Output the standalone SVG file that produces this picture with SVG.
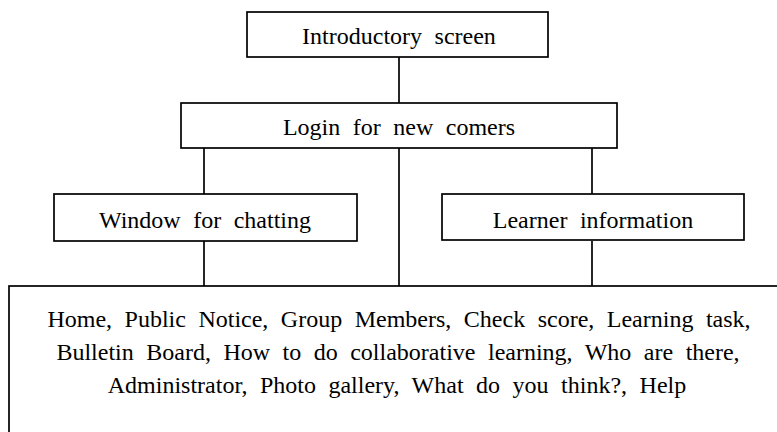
<svg xmlns="http://www.w3.org/2000/svg" width="777" height="432" viewBox="0 0 777 432">
<style>
.box{fill:#fff;stroke:#000;stroke-width:1.7}
.ln{stroke:#000;stroke-width:1.7;fill:none}
text{font-family:"Liberation Serif","Times New Roman",serif;font-size:24px;fill:#000;text-anchor:middle;word-spacing:6.5px}
</style>
<rect width="777" height="432" fill="#fff"/>
<g id="connectors">
<line class="ln" x1="399" y1="57" x2="399" y2="103"/>
<line class="ln" x1="204" y1="148" x2="204" y2="194"/>
<line class="ln" x1="592" y1="148" x2="592" y2="194"/>
<line class="ln" x1="399" y1="148" x2="399" y2="286"/>
<line class="ln" x1="204" y1="241" x2="204" y2="286"/>
<line class="ln" x1="592" y1="241" x2="592" y2="286"/>
</g>
<g id="intro">
<rect class="box" x="247" y="12" width="301" height="45"/>
<text x="399" y="44">Introductory screen</text>
</g>
<g id="login">
<rect class="box" x="181" y="103" width="436" height="45"/>
<text x="399" y="135">Login for new comers</text>
</g>
<g id="chat">
<rect class="box" x="54" y="194" width="303" height="47"/>
<text x="205" y="228">Window for chatting</text>
</g>
<g id="learner">
<rect class="box" x="442" y="194" width="302" height="46"/>
<text x="593" y="228">Learner information</text>
</g>
<g id="menu">
<rect class="box" x="9" y="286" width="790" height="160"/>
<text x="399" y="327">Home, Public Notice, Group Members, Check score, Learning task,</text>
<text x="398" y="360">Bulletin Board, How to do collaborative learning, Who are there,</text>
<text x="397" y="393">Administrator, Photo gallery, What do you think?, Help</text>
</g>
</svg>
